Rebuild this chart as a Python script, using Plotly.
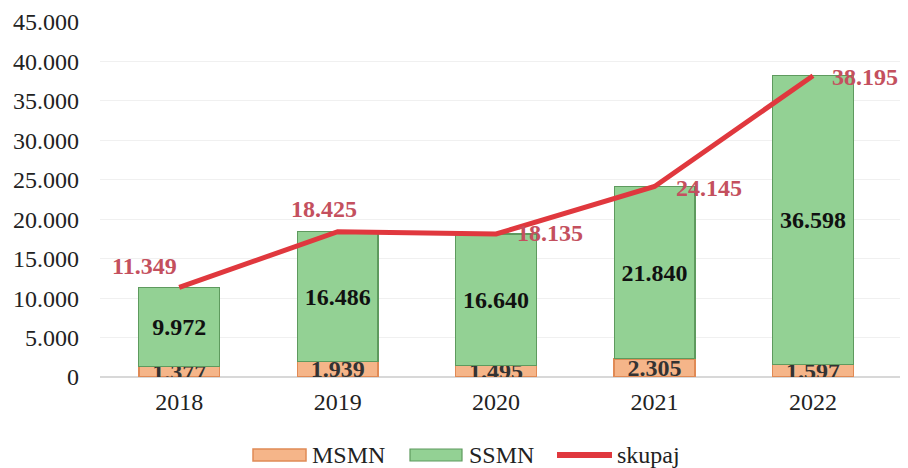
import plotly.graph_objects as go

years = ["2018", "2019", "2020", "2021", "2022"]
msmn = [1377, 1939, 1495, 2305, 1597]
ssmn = [9972, 16486, 16640, 21840, 36598]
skupaj = [11349, 18425, 18135, 24145, 38195]
y_ticks = [0, 5000, 10000, 15000, 20000, 25000, 30000, 35000, 40000, 45000]
legend_names = ["MSMN", "SSMN", "skupaj"]

def fmt(v):
    return f"{v:,}".replace(",", ".")

FONT = "Liberation Serif, Times New Roman, serif"
C_MS, C_MS_L = "#F5B589", "#E08A55"
C_SS, C_SS_L = "#93D194", "#5E9A5E"
C_LINE = "#E0383E"
C_LBL = "#C4505E"

# label offsets (style only)
lbl_dx = [-35, -14, 54, 54, 52]
lbl_dy = [21, 23, 1, -1, -1]

fig = go.Figure()
fig.add_trace(go.Bar(
    x=years, y=msmn, name=legend_names[0],
    marker=dict(color=C_MS, line=dict(color=C_MS_L, width=1.5)),
    text=[f"<b>{fmt(v)}</b>" for v in msmn], textposition="inside", insidetextanchor="middle",
    constraintext="none",
    textfont=dict(family=FONT, size=24, color="#333333"),
))
fig.add_trace(go.Bar(
    x=years, y=ssmn, name=legend_names[1],
    marker=dict(color=C_SS, line=dict(color=C_SS_L, width=1.2)),
    text=[f"<b>{fmt(v)}</b>" for v in ssmn], textposition="inside", insidetextanchor="middle",
    constraintext="none",
    textfont=dict(family=FONT, size=24, color="#111111"),
))
fig.add_trace(go.Scatter(
    x=years, y=skupaj, name=legend_names[2], mode="lines",
    line=dict(color=C_LINE, width=5),
))

for i, (yr, v) in enumerate(zip(years, skupaj)):
    fig.add_annotation(x=i, y=v, xref="x", yref="y", text=f"<b>{fmt(v)}</b>",
                       showarrow=False, xshift=lbl_dx[i], yshift=lbl_dy[i],
                       font=dict(family=FONT, size=24, color=C_LBL))

# custom legend (paper coordinates)
leg_y0, leg_y1, leg_yc = -0.2366, -0.2028, -0.2197
swatches = [(0.19125, 0.2575, 0.2625), (0.3875, 0.4525, 0.45875), (0.57125, 0.64, 0.64375)]
fig.add_shape(type="rect", xref="paper", yref="paper", x0=swatches[0][0], x1=swatches[0][1],
              y0=leg_y0, y1=leg_y1, fillcolor=C_MS, line=dict(color=C_MS_L, width=1.5))
fig.add_shape(type="rect", xref="paper", yref="paper", x0=swatches[1][0], x1=swatches[1][1],
              y0=leg_y0, y1=leg_y1, fillcolor=C_SS, line=dict(color=C_SS_L, width=1.2))
fig.add_shape(type="line", xref="paper", yref="paper", x0=swatches[2][0], x1=swatches[2][1],
              y0=leg_yc, y1=leg_yc, line=dict(color=C_LINE, width=6))
for name, sw in zip(legend_names, swatches):
    fig.add_annotation(x=sw[2], y=leg_yc, xref="paper", yref="paper", text=name,
                       showarrow=False, xanchor="left", yanchor="middle",
                       font=dict(family=FONT, size=24, color="#222222"))

# page body has an 8px margin, so the figure is 900x460 and offset accordingly
fig.update_layout(
    barmode="stack", bargap=0.49,
    width=900, height=460,
    margin=dict(l=92, r=8, t=14, b=91),
    paper_bgcolor="white", plot_bgcolor="white",
    font=dict(family=FONT, size=24, color="#222222"),
    showlegend=False,
    xaxis=dict(type="category", showgrid=False, showline=False, ticks="",
               tickfont=dict(size=24), ticklabelstandoff=8, automargin=False),
    yaxis=dict(range=[0, 45000], tickvals=y_ticks, ticktext=[fmt(v) for v in y_ticks],
               showgrid=True, gridcolor="#F0F0F0", zeroline=True, zerolinecolor="#D8D8D8",
               tickfont=dict(size=24), ticklabelstandoff=20, automargin=False),
)

fig.write_html("out.html")
